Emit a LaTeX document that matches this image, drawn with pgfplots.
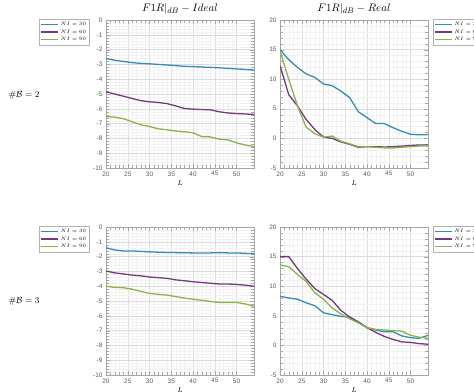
\documentclass[border=0pt]{standalone}
\usepackage{pgfplots}
\pgfplotsset{compat=1.18}
\usepackage{fontspec}
\newfontfamily\tickfont{Liberation Sans}
\definecolor{cA}{RGB}{52,140,178}
\definecolor{cB}{RGB}{118,55,128}
\definecolor{cC}{RGB}{140,178,72}
\pgfplotsset{
  myax/.style={
    scale only axis, width=148bp, height=148bp,
    xmin=20, xmax=54, xtick={20,25,...,50}, minor x tick num=4,
    grid=both,
    major grid style={gray!28, line width=0.35pt},
    minor grid style={gray!10, line width=0.2pt},
    axis line style={gray!70},
    tick style={gray!70},
    ticklabel style={font=\tickfont\fontsize{6.5}{7}\selectfont, text=gray!70!black},
    /pgf/number format/assume math mode=true,
    xlabel={$L$},
    xlabel style={font=\fontsize{7}{8}\selectfont, yshift=2bp},
    title style={font=\fontsize{11}{13}\selectfont, at={(0.5,1)}, anchor=south, yshift=-4bp},
    legend style={font=\fontsize{4}{4.5}\selectfont, draw=gray!60, inner sep=0.8pt,
      row sep=-1.2pt, legend cell align=left},
    legend image post style={line width=1.3pt},
    every axis plot/.append style={line width=1.3pt},
  },
  ideal/.style={ymin=-10, ymax=0, ytick={-10,-9,...,0}, minor y tick num=4,
    legend style={at={(-0.115,1.007)}, anchor=north east}},
  real/.style={ymin=-5, ymax=20, ytick={-5,0,...,20}, minor y tick num=4,
    legend style={at={(1.034,1.007)}, anchor=north west}},
}
\begin{document}
\begin{tikzpicture}
\path[use as bounding box] (0,0) rectangle (474bp,-392bp);
\node[font=\fontsize{9}{10}\selectfont] at (24bp,-95bp) {$\#\mathcal{B}=2$};
\node[font=\fontsize{9}{10}\selectfont] at (24bp,-301bp) {$\#\mathcal{B}=3$};
% top-left
\begin{axis}[myax, ideal, at={(106bp,-168bp)}, anchor=south west, title={$F1R|_{dB}-Ideal$}]
\addplot[cA] coordinates {(20,-2.6)(22,-2.72)(24,-2.8)(26,-2.88)(28,-2.93)(30,-2.96)(32,-3.0)(34,-3.04)(36,-3.08)(38,-3.13)(40,-3.15)(42,-3.18)(44,-3.2)(46,-3.23)(48,-3.27)(50,-3.3)(52,-3.34)(54,-3.38)};
\addplot[cB] coordinates {(20,-4.85)(22,-5.0)(24,-5.15)(26,-5.3)(28,-5.45)(30,-5.53)(32,-5.57)(34,-5.65)(36,-5.8)(38,-5.98)(40,-6.02)(42,-6.05)(44,-6.07)(46,-6.2)(48,-6.28)(50,-6.32)(52,-6.35)(54,-6.38)};
\addplot[cC] coordinates {(20,-6.53)(22,-6.56)(24,-6.67)(26,-6.87)(28,-7.08)(30,-7.2)(32,-7.35)(34,-7.42)(36,-7.5)(38,-7.55)(40,-7.62)(42,-7.88)(44,-7.9)(46,-8.05)(48,-8.1)(50,-8.3)(52,-8.45)(54,-8.55)};
\addlegendentry{$NI=30$}\addlegendentry{$NI=60$}\addlegendentry{$NI=90$}
\end{axis}
% top-right
\begin{axis}[myax, real, at={(280bp,-168bp)}, anchor=south west, title={$F1R|_{dB}-Real$}]
\addplot[cA] coordinates {(20,15.0)(22,13.3)(24,12.0)(26,10.9)(28,10.3)(30,9.2)(32,8.9)(34,8.0)(36,6.9)(38,4.5)(40,3.5)(42,2.5)(44,2.5)(46,1.8)(48,1.2)(50,0.7)(52,0.6)(54,0.6)};
\addplot[cB] coordinates {(20,12.3)(22,7.4)(24,5.5)(26,3.2)(28,1.5)(30,0.2)(32,0.0)(34,-0.6)(36,-1.0)(38,-1.5)(40,-1.4)(42,-1.4)(44,-1.45)(46,-1.4)(48,-1.3)(50,-1.2)(52,-1.1)(54,-1.1)};
\addplot[cC] coordinates {(20,14.8)(22,10.0)(24,5.5)(26,1.9)(28,0.8)(30,0.2)(32,0.4)(34,-0.5)(36,-0.9)(38,-1.4)(40,-1.4)(42,-1.5)(44,-1.6)(46,-1.6)(48,-1.5)(50,-1.4)(52,-1.3)(54,-1.3)};
\addlegendentry{$NI=30$}\addlegendentry{$NI=60$}\addlegendentry{$NI=90$}
\end{axis}
% bottom-left
\begin{axis}[myax, ideal, at={(106bp,-375bp)}, anchor=south west]
\addplot[cA] coordinates {(20,-1.4)(22,-1.55)(24,-1.62)(26,-1.62)(28,-1.65)(30,-1.68)(32,-1.7)(34,-1.72)(36,-1.73)(38,-1.74)(40,-1.75)(42,-1.76)(44,-1.75)(46,-1.73)(48,-1.75)(50,-1.75)(52,-1.78)(54,-1.8)};
\addplot[cB] coordinates {(20,-2.97)(22,-3.1)(24,-3.17)(26,-3.25)(28,-3.3)(30,-3.38)(32,-3.42)(34,-3.47)(36,-3.57)(38,-3.63)(40,-3.7)(42,-3.75)(44,-3.8)(46,-3.85)(48,-3.85)(50,-3.88)(52,-3.93)(54,-4.0)};
\addplot[cC] coordinates {(20,-4.0)(22,-4.08)(24,-4.1)(26,-4.2)(28,-4.35)(30,-4.48)(32,-4.55)(34,-4.6)(36,-4.7)(38,-4.8)(40,-4.88)(42,-4.95)(44,-5.03)(46,-5.1)(48,-5.1)(50,-5.1)(52,-5.2)(54,-5.35)};
\addlegendentry{$NI=30$}\addlegendentry{$NI=60$}\addlegendentry{$NI=90$}
\end{axis}
% bottom-right
\begin{axis}[myax, real, at={(280bp,-375bp)}, anchor=south west]
\addplot[cA] coordinates {(20,8.3)(22,8.0)(24,7.8)(26,7.2)(28,6.7)(30,5.5)(32,5.2)(34,4.9)(36,4.8)(38,4.0)(40,3.0)(42,2.6)(44,2.3)(46,2.3)(48,1.6)(50,1.3)(52,1.2)(54,1.7)};
\addplot[cB] coordinates {(20,15.0)(22,15.0)(24,13.0)(26,11.2)(28,9.6)(30,8.6)(32,7.6)(34,5.9)(36,4.8)(38,3.9)(40,3.0)(42,2.2)(44,1.5)(46,1.0)(48,0.6)(50,0.5)(52,0.3)(54,0.2)};
\addplot[cC] coordinates {(20,13.6)(22,13.3)(24,12.0)(26,10.8)(28,8.9)(30,7.8)(32,6.3)(34,5.3)(36,4.5)(38,3.8)(40,3.0)(42,2.7)(44,2.6)(46,2.5)(48,2.4)(50,1.7)(52,1.4)(54,1.2)};
\addlegendentry{$NI=30$}\addlegendentry{$NI=60$}\addlegendentry{$NI=90$}
\end{axis}
\end{tikzpicture}
\end{document}
